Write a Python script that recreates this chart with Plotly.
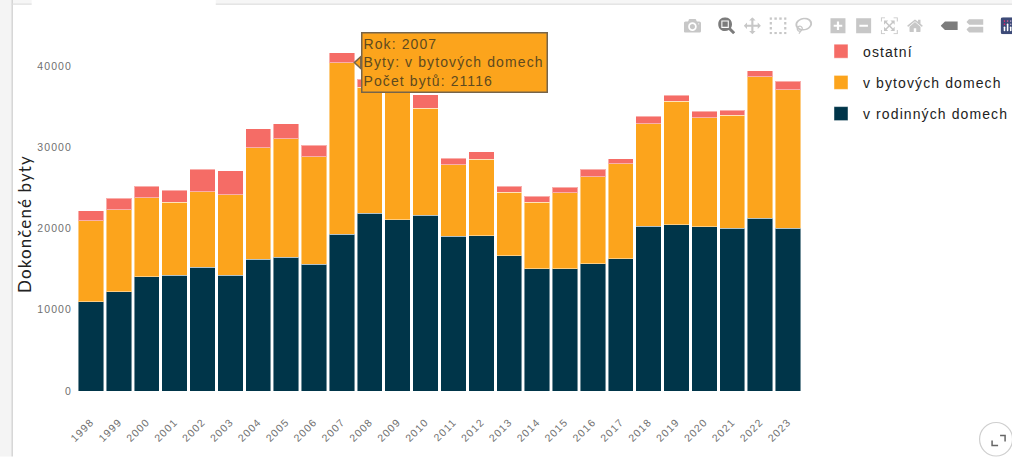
import plotly.graph_objects as go

years = [str(y) for y in [1998,1999,2000,2001,2002,2003,2004,2005,2006,2007,2008,2009,2010,2011,2012,2013,2014,2015,2016,2017,2018,2019,2020,2021,2022,2023]]
rodinne = [11000,12230,14070,14230,15210,14230,16200,16440,15580,19270,21900,21080,21600,19020,19110,16650,15020,15060,15670,16280,20250,20460,20180,20050,21280,20010]
bytove = [9950,10070,9710,8970,9310,9920,13720,14590,13240,21116,15470,16320,13200,8820,9410,7820,8180,9340,10690,11680,12630,15160,13470,13850,17370,17040]
ostatni = [1230,1420,1420,1500,2760,2950,2340,1850,1390,1254,1010,1073,1640,770,890,730,740,670,930,610,920,740,740,640,740,1030]
ticks_y = [0,10000,20000,30000,40000]

W, H = 1012, 457
L, R, T, B = 77.3, 802, 35.4, 391.5
FONT = "Liberation Sans"

def fx(x): return (x - L) / (R - L)
def fy(y): return (B - y) / (B - T)
def line(x0, y0, x1, y1, col, w=1):
    return dict(type="line", xref="paper", yref="paper", x0=fx(x0), y0=fy(y0), x1=fx(x1), y1=fy(y1),
                line=dict(color=col, width=w), layer="above")
def rect(x0, y0, x1, y1, col):
    return dict(type="rect", xref="paper", yref="paper", x0=fx(x0), y0=fy(y0), x1=fx(x1), y1=fy(y1),
                fillcolor=col, line=dict(width=0), layer="below")
def poly(pts, col, fill=None, w=1):
    d = "M" + " L".join(f"{fx(x)},{fy(y)}" for x, y in pts)
    s = dict(type="path", xref="paper", yref="paper", path=d, line=dict(color=col, width=w), layer="above")
    if fill:
        s["path"] = d + " Z"
        s["fillcolor"] = fill
    return s

shapes = [
    rect(0, 0, 12, H, "#f4f4f4"),
    rect(12, 0, 32, 4, "#f6f6f6"),
    rect(216, 0, W, 4, "#f6f6f6"),
    line(12.5, 0, 12.5, H, "#cccccc", 1.2),
    line(12, 4.5, 32, 4.5, "#dddddd", 1.2),
    line(216, 4.5, W, 4.5, "#dddddd", 1.2),
    dict(type="circle", xref="paper", yref="paper", x0=fx(979.5), x1=fx(1012.5), y0=fy(456.5), y1=fy(423),
         line=dict(color="#cfcfcf", width=1.2), layer="above"),
    poly([(992, 441), (992, 446), (998, 446)], "#666666", w=1.5),
    poly([(1000, 436), (1005, 436), (1005, 442)], "#666666", w=1.5),
    poly([(354.5, 63), (361, 57), (361, 69)], "#76644a", fill="#FCA41C", w=1.5),
]

fig = go.Figure()
for name, vals, col, rank in [
    ("v rodinných domech", rodinne, "#003549", 3),
    ("v bytových domech", bytove, "#FCA41C", 2),
    ("ostatní", ostatni, "#F56C66", 1),
]:
    fig.add_trace(go.Bar(
        x=years, y=vals, name=name, legendgroup=name, legendrank=rank,
        marker=dict(color=col, line=dict(color="rgba(255,255,255,0.45)", width=1)),
        customdata=[name]*len(years),
        hovertemplate="Rok: %{x}<br>Byty: %{customdata}<br>Počet bytů: %{y}<extra></extra>",
    ))

fig.update_layout(
    width=W, height=H, barmode="stack", bargap=0.09,
    margin=dict(l=L, r=W-R, t=T, b=H-B, pad=0),
    paper_bgcolor="white", plot_bgcolor="white",
    font=dict(family=FONT, color="#444"),
    xaxis=dict(type="category", categoryorder="array", categoryarray=years, range=[-0.5,25.5],
               tickangle=-45, tickfont=dict(size=10.5, color="#707070"), ticklabelstandoff=22,
               showgrid=False, zeroline=False, ticks="", automargin=False),
    yaxis=dict(range=[0,43800], tickvals=ticks_y, tickformat="d", tickfont=dict(size=10.5, color="#707070"),
               ticklabelstandoff=4,
               showgrid=False, zeroline=False, ticks="", automargin=False),
    legend=dict(x=(823-L)/(R-L), y=1-(36-T)/(B-T), xanchor="left", yanchor="top",
                traceorder="grouped", tracegroupgap=10,
                font=dict(size=14, color="#222"), bgcolor="rgba(0,0,0,0)"),
    hovermode="closest",
    modebar=dict(add=["v1hovermode"]),
    shapes=shapes,
    annotations=[dict(
        x=9, y=40386, xref="x", yref="y", xanchor="left", yanchor="middle",
        xshift=18.6, showarrow=False, width=182, height=56,
        text="Rok: 2007<br>Byty: v bytových domech<br>Počet bytů: 21116",
        align="left",
        bgcolor="#FCA41C", bordercolor="#76644a", borderwidth=1.5, borderpad=1,
        font=dict(size=14, family=FONT, color="#5e4a1f"),
    ), dict(
        x=fx(25), y=fy(224), xref="paper", yref="paper", xanchor="center", yanchor="middle",
        showarrow=False, textangle=-90, text="Dokončené byty",
        font=dict(size=17, family="Lato", color="#222"),
    )],
)

post = """
document.body.style.margin='0';document.body.style.overflow='hidden';
var st=document.createElement('style');
st.textContent='svg text{letter-spacing:1.1px}.modebar{transform-origin:100% 0;transform:translate(12px,12px) scale(1.07)}.plotlyjsicon rect{fill:#3d4b78 !important}';
document.head.appendChild(st);
var gd=document.getElementById('{plot_id}');
Plotly.redraw(gd).then(function(){
  gd.querySelectorAll('g.legendpoints path').forEach(function(p){p.setAttribute('d','M5,7H-9V-7H5Z');});
  var sb=gd.querySelector('.legend .scrollbox'); if(sb){sb.removeAttribute('clip-path');}
  var lg=gd.querySelector('.legend'); if(lg){lg.removeAttribute('clip-path');}
});
"""
fig.write_html("out.html", config={"displayModeBar": True, "responsive": False}, post_script=post)
